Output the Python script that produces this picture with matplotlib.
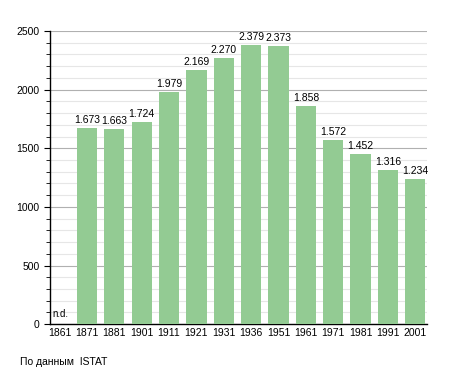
import matplotlib.pyplot as plt
from matplotlib.ticker import MultipleLocator

years = ["1861", "1871", "1881", "1901", "1911", "1921", "1931",
         "1936", "1951", "1961", "1971", "1981", "1991", "2001"]
pop = [None, 1673, 1663, 1724, 1979, 2169, 2270,
       2379, 2373, 1858, 1572, 1452, 1316, 1234]

plt.rcParams['font.family'] = ['Liberation Sans', 'DejaVu Sans']

fig = plt.figure(figsize=(4.55, 3.73), dpi=100)
ax = fig.add_axes([0.11, 0.131, 0.828, 0.786])

x = list(range(len(years)))
vals = [v if v is not None else 0 for v in pop]
ax.bar(x, vals, width=0.74, color="#93cb93", zorder=3)

for i, v in enumerate(pop):
    if v is None:
        ax.text(i - 0.27, 40, "n.d.", fontsize=7, ha="left", va="bottom", zorder=4)
    else:
        lab = f"{v:,}".replace(",", ".")
        ax.text(i, v + 25, lab, fontsize=7.5, ha="center", va="bottom", zorder=4)

ax.set_xlim(-0.35, 13.42)
ax.set_ylim(0, 2500)
ax.set_xticks(x)
ax.set_xticklabels(years, fontsize=7.5)
ax.yaxis.set_major_locator(MultipleLocator(500))
ax.yaxis.set_minor_locator(MultipleLocator(100))
ax.tick_params(axis="y", labelsize=7.5, length=4)
ax.tick_params(axis="y", which="minor", length=3)
ax.tick_params(axis="x", length=0, pad=3)
ax.grid(axis="y", which="major", color="#b0b0b0", linewidth=0.8, zorder=0)
ax.grid(axis="y", which="minor", color="#e6e6e6", linewidth=0.8, zorder=0)
for s in ["top", "right"]:
    ax.spines[s].set_visible(False)
ax.spines["left"].set_linewidth(1)
ax.spines["bottom"].set_linewidth(1)

fig.text(0.044, 0.03, "По данным  ISTAT", fontsize=7.5, ha="left", va="center")

fig.savefig("out.png", dpi=100)
